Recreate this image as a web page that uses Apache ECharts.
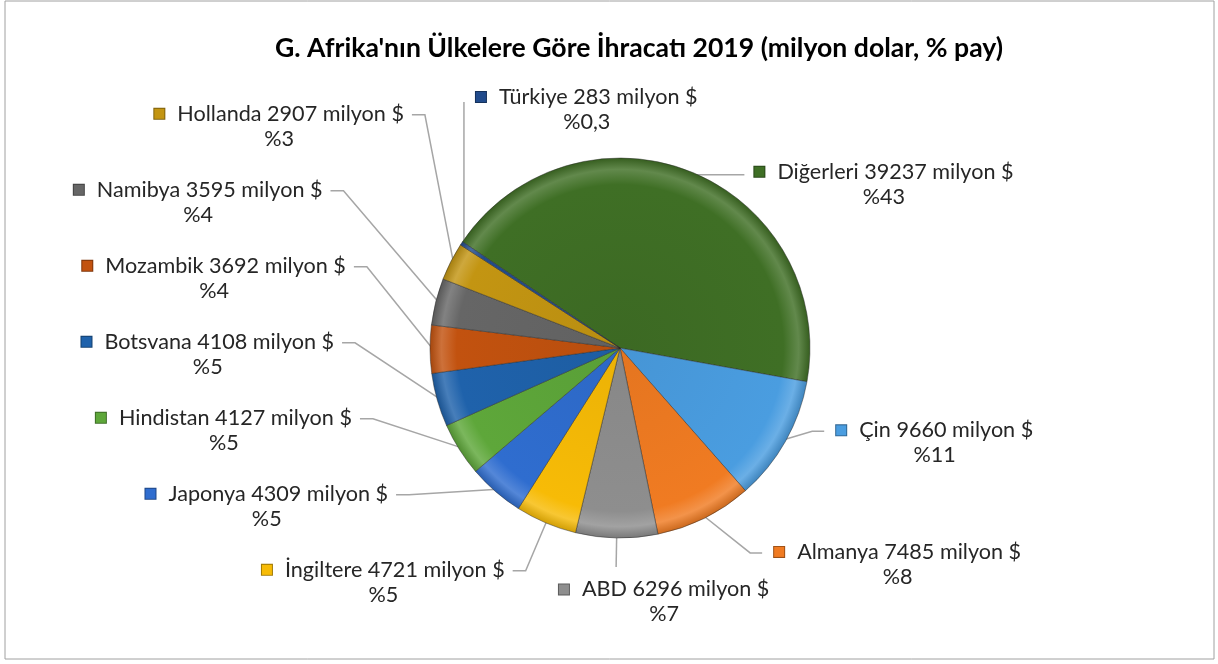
<!DOCTYPE html>
<html>
<head>
<meta charset="utf-8">
<script src="https://cdn.jsdelivr.net/npm/echarts@6/dist/echarts.min.js"></script>
<style>
  html, body { margin: 0; padding: 0; background: #fff; }
  #main { width: 1218px; height: 664px; }
</style>
</head>
<body>
<div id="main"></div>
<script>
// countries, clockwise from the big "others" slice
const countries = ['Diğerleri', 'Çin', 'Almanya', 'ABD', 'İngiltere', 'Japonya',
  'Hindistan', 'Botsvana', 'Mozambik', 'Namibya', 'Hollanda', 'Türkiye'];
const exports2019 = [39237, 9660, 7485, 6296, 4721, 4309, 4127, 4108, 3692, 3595, 2907, 283];
const sliceColors = ['#3f6f25', '#4a9de0', '#f07b22', '#8e8e8e', '#f7bb06', '#2f6dcf',
  '#5ea73a', '#1f62ab', '#c2520f', '#666666', '#c39512', '#214b8c'];

const CX = 620, CY = 348, R = 190, START = 146;
const total = exports2019.reduce((a, b) => a + b, 0);

function pctText(v) {
  const p = v / total * 100;
  return p < 1 ? p.toFixed(1).replace('.', ',') : String(Math.round(p));
}

function mix(hex, target, k) {
  const n = parseInt(hex.slice(1), 16);
  const c = [n >> 16, (n >> 8) & 255, n & 255].map(v => Math.round(v + (target - v) * k));
  return 'rgb(' + c.join(',') + ')';
}

function pt(r, deg) {
  const t = deg * Math.PI / 180;
  return [CX + r * Math.cos(t), CY + r * Math.sin(t)];
}

// mid angle of each slice, clockwise from east in screen degrees
const midAngles = [];
let acc = -START;
exports2019.forEach(v => {
  const span = v / total * 360;
  midAngles.push(acc + span / 2);
  acc += span;
});

// leader line elbows, roughly how Excel's best fit spreads them
const leaders = [];
let lastY = null;
midAngles.forEach(c => {
  if (c < 0) { leaders.push({ kind: 'flat' }); return; }
  if (c < 85) {
    const a = c - 6;
    const s = Math.sin(a * Math.PI / 180);
    leaders.push({ kind: 'right', elbow: pt(200 + 60 * s * s, a) });
    return;
  }
  if (c < 100) { leaders.push({ kind: 'bottom', elbow: pt(219, c) }); return; }
  if (c < 120) {
    const e = pt(242, c);
    lastY = e[1];
    leaders.push({ kind: 'left', elbow: e });
    return;
  }
  const a = (c + 15) * Math.PI / 180;
  const r0 = Math.sin(a) > 0 ? 262 : 265 + 55 * -Math.sin(a);
  let y = CY + r0 * Math.sin(a);
  if (lastY !== null) y = Math.min(y, lastY - 76);
  if (y < 90) { leaders.push({ kind: 'top' }); return; }
  const dy = y - CY;
  const rr = (dy > 0 ? 257 : 265) + 55 * Math.min(1, Math.max(0, (-dy - 80) / 80))
    - 0.3 * Math.max(0, -dy - 180);
  leaders.push({ kind: 'left', elbow: [CX - Math.sqrt(rr * rr - dy * dy), y] });
  lastY = y;
});

const rich = {
  t: { fontSize: 21.6, color: '#262626', fontFamily: 'Lato', lineHeight: 25, align: 'center' },
  s: { width: 13 }
};
sliceColors.forEach((c, i) => {
  rich['k' + i] = { width: 10, height: 10, backgroundColor: c, borderColor: mix(c, 0, 0.35), borderWidth: 1 };
});

const myChart = echarts.init(document.getElementById('main'));

const option = {
  backgroundColor: '#fff',
  animation: false,
  title: {
    text: "G. Afrika'nın Ülkelere Göre İhracatı 2019 (milyon dolar, % pay)",
    left: 270,
    top: 30,
    textStyle: { fontSize: 26.6, fontWeight: 'bold', color: '#000', fontFamily: 'Lato' }
  },
  graphic: [{
    type: 'rect',
    shape: { x: 5, y: 1, width: 1209, height: 658 },
    style: { fill: 'none', stroke: '#a0a0a0', lineWidth: 1 },
    silent: true
  }],
  series: [{
    type: 'pie',
    center: [CX, CY],
    radius: R,
    startAngle: START,
    clockwise: true,
    avoidLabelOverlap: false,
    data: countries.map((name, i) => ({
      name: name,
      value: exports2019[i],
      itemStyle: {
        color: new echarts.graphic.RadialGradient(CX, CY, R, [
          { offset: 0, color: mix(sliceColors[i], 0, 0.05) },
          { offset: 0.86, color: sliceColors[i] },
          { offset: 0.94, color: mix(sliceColors[i], 255, 0.18) },
          { offset: 1, color: mix(sliceColors[i], 0, 0.15) }
        ], true)
      }
    })),
    itemStyle: { borderColor: 'rgba(40,40,40,0.45)', borderWidth: 1 },
    label: {
      formatter: function (p) {
        return '{k' + p.dataIndex + '|}{s|}{t|' + p.name + ' ' + p.value + ' milyon $}\n{t|%' + pctText(p.value) + '}';
      },
      rich: rich
    },
    labelLine: {
      show: true,
      lineStyle: { color: '#a6a6a6', width: 1.5 }
    },
    labelLayout: function (params) {
      const i = params.dataIndex;
      const L = leaders[i];
      const edge = pt(R - 3, midAngles[i]);
      const half = 12.5;
      if (L.kind === 'top') {
        const top = [edge[0], CY - 246];
        return {
          x: top[0] + 12, y: top[1] - 5 - half, align: 'left', verticalAlign: 'top',
          labelLinePoints: [edge, top, top]
        };
      }
      if (L.kind === 'flat') {
        const end = [edge[0] + 54, edge[1]];
        return {
          x: end[0] + 10, y: edge[1] - half - 3, align: 'left', verticalAlign: 'top',
          labelLinePoints: [edge, [edge[0] + 2, edge[1]], end]
        };
      }
      if (L.kind === 'bottom') {
        return {
          x: L.elbow[0] + 48, y: L.elbow[1] + 10, align: 'center', verticalAlign: 'top',
          labelLinePoints: [edge, L.elbow, L.elbow]
        };
      }
      const left = L.kind === 'left';
      const end = [L.elbow[0] + (left ? -13 : 12), L.elbow[1]];
      return {
        x: end[0] + (left ? -8 : 12), y: L.elbow[1] - half - 1,
        align: left ? 'right' : 'left', verticalAlign: 'top',
        labelLinePoints: [edge, L.elbow, end]
      };
    }
  }]
};

myChart.setOption(option);
</script>
</body>
</html>
